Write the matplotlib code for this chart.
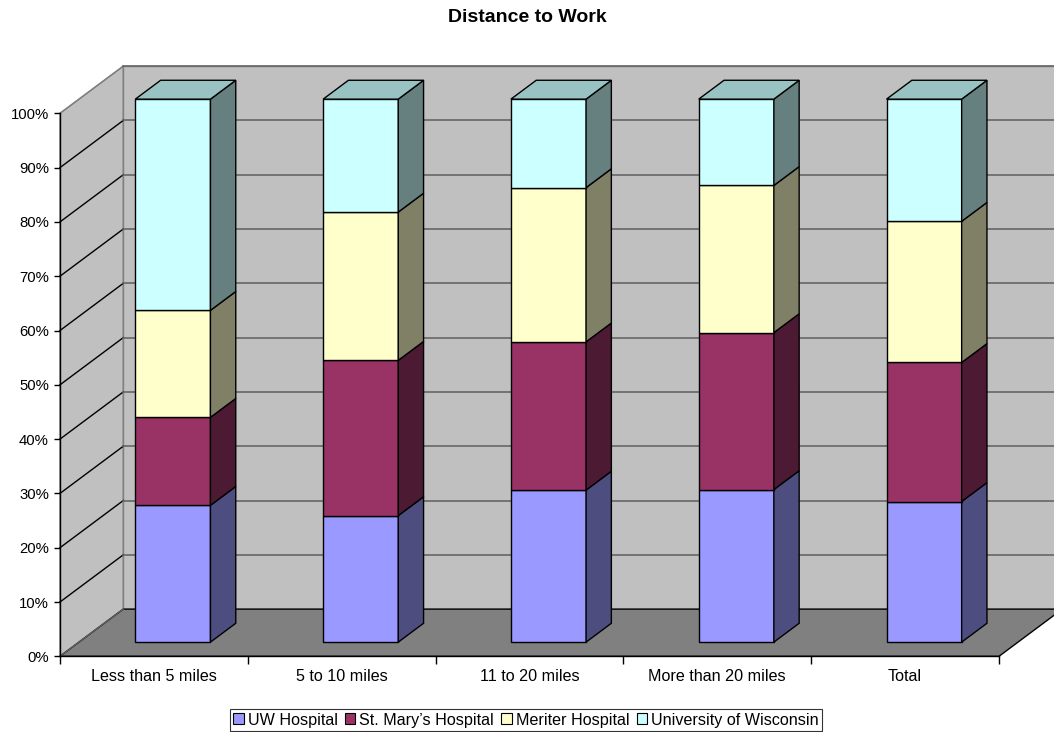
import matplotlib
matplotlib.use("Agg")
import matplotlib.pyplot as plt
from matplotlib.patches import Polygon, Patch
from matplotlib.ticker import FuncFormatter
import numpy as np

plt.rcParams['font.family'] = ['Liberation Sans', 'DejaVu Sans']

categories = ['Less than 5 miles', '5 to 10 miles', '11 to 20 miles',
              'More than 20 miles', 'Total']
series = ['UW Hospital', 'St. Mary\u2019s Hospital', 'Meriter Hospital',
          'University of Wisconsin']
uw_hospital = [25.2, 23.3, 28.0, 28.1, 25.9]
st_marys = [16.2, 28.6, 27.3, 28.9, 25.6]
meriter = [19.7, 27.3, 28.4, 27.1, 26.0]
uw_madison = [38.9, 20.8, 16.3, 15.9, 22.5]

front_colors = ['#9999FF', '#993366', '#FFFFCC', '#CCFFFF']
side_colors = ['#4D4D80', '#4D1A33', '#808066', '#668080']
top_color = '#99C2C2'

# oblique offset of the full chart depth, in x / y data units
DX, DY = 0.337, 8.69
D0, D1 = 0.30, 0.70  # depth range taken by the columns


def proj(x, y, d):
    return (x + d * DX, y + d * DY)


def face(ax, pts, fc, ec='black', lw=1.0, z=1):
    ax.add_patch(Polygon([proj(*p) for p in pts], closed=True, facecolor=fc,
                         edgecolor=ec, linewidth=lw, clip_on=False, zorder=z))


data = np.array([uw_hospital, st_marys, meriter, uw_madison])
data = data / data.sum(axis=0) * 100
n = len(categories)

fig = plt.figure(figsize=(10.54, 7.32), dpi=100)
fig.patch.set_facecolor('white')
ax = fig.add_axes([60 / 1054, (732 - 656.3) / 732, 939 / 1054, 543 / 732])
ax.set_xlim(0, n)
ax.set_ylim(0, 100)
ax.patch.set_visible(False)

# walls and floor
wall = '#C0C0C0'
edge = '#808080'
face(ax, [(0, 0, 0), (0, 100, 0), (0, 100, 1), (0, 0, 1)], wall, edge, 1.0)
face(ax, [(0, 0, 1), (n + 1, 0, 1), (n + 1, 100, 1), (0, 100, 1)], wall, edge, 1.0)
face(ax, [(0, 0, 0), (n, 0, 0), (n, 0, 1), (0, 0, 1)], '#808080', 'black', 1.0)
ax.plot(*zip(proj(0, 0, 0), proj(0, 0, 1)), color='#606060', lw=1,
        clip_on=False, zorder=1.1)

# gridlines: diagonal on the side wall, horizontal on the back wall
for v in range(10, 101, 10):
    c_side = edge if v == 100 else 'black'
    ax.plot(*zip(proj(0, v, 0), proj(0, v, 1)), color=c_side, lw=1,
            clip_on=False, zorder=1.2)
    ax.plot(*zip(proj(0, v, 1), proj(n + 1, v, 1)), color='#666666', lw=1.2,
            clip_on=False, zorder=1.2)

# stacked columns
for i in range(n):
    x0, x1 = i + 0.3, i + 0.7
    bottom = 0.0
    for s in range(len(series)):
        top = bottom + data[s, i]
        face(ax, [(x0, bottom, D0), (x1, bottom, D0), (x1, top, D0), (x0, top, D0)],
             front_colors[s], z=3)
        face(ax, [(x1, bottom, D0), (x1, bottom, D1), (x1, top, D1), (x1, top, D0)],
             side_colors[s], z=3)
        bottom = top
    face(ax, [(x0, 100, D0), (x1, 100, D0), (x1, 100, D1), (x0, 100, D1)],
         top_color, z=3)

# axes
for side in ['top', 'right']:
    ax.spines[side].set_visible(False)
for side in ['left', 'bottom']:
    ax.spines[side].set_linewidth(1.0)
    ax.spines[side].set_zorder(4)
ax.set_yticks(range(0, 101, 10))
ax.yaxis.set_major_formatter(FuncFormatter(lambda v, p: '%d%%' % v))
ax.set_xticks(range(n + 1))
ax.set_xticklabels([])
ax.set_xticks(np.arange(n) + 0.5, minor=True)
ax.set_xticklabels(categories, minor=True)
ax.tick_params(axis='y', direction='out', length=4.5, width=1, pad=3.5, labelsize=10.7)
ax.tick_params(axis='x', which='major', direction='out', length=6, width=1)
ax.tick_params(axis='x', which='minor', length=0, pad=9, labelsize=11.6)

fig.text(0.5, 1 - 18 / 732, 'Distance to Work', ha='center', va='center',
         fontsize=14, fontweight='bold')

handles = [Patch(facecolor=c, edgecolor='black', linewidth=0.8) for c in front_colors]
leg = fig.legend(handles, series, loc='center', ncol=4,
                 bbox_to_anchor=(526 / 1054, 1 - 720 / 732), fontsize=11.6,
                 frameon=True, fancybox=False, borderpad=0.2, handlelength=0.65,
                 handleheight=0.65, handletextpad=0.25, columnspacing=0.45,
                 borderaxespad=0)
leg.get_frame().set_edgecolor('black')
leg.get_frame().set_linewidth(0.8)

fig.savefig('out.png', dpi=100, facecolor='white')
